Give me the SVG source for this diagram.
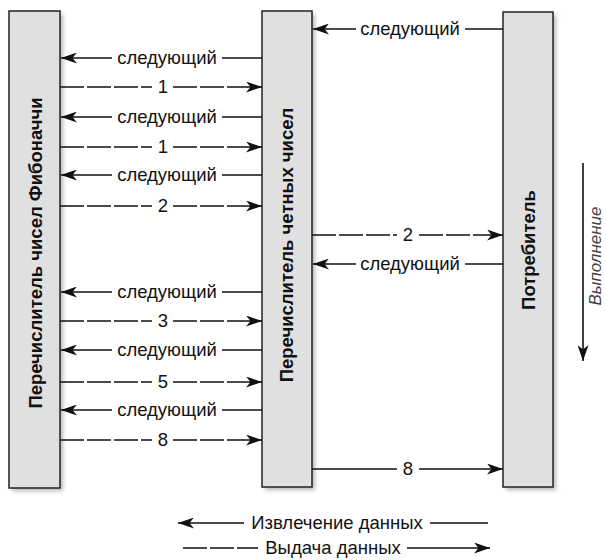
<svg xmlns="http://www.w3.org/2000/svg" width="606" height="560" viewBox="0 0 606 560">
<defs>
<marker id="ah" viewBox="0 0 16 11" refX="16" refY="5.5" markerWidth="16" markerHeight="11" markerUnits="userSpaceOnUse" orient="auto">
<path d="M0,0 L16,5.5 L0,11 L4.5,5.5 z" fill="#111"/>
</marker>
<filter id="sh" x="-20%" y="-5%" width="140%" height="110%"><feGaussianBlur stdDeviation="2"/></filter>
</defs>
<style>
.bar{fill:#e0e0e0;stroke:#222;stroke-width:1.5}
.shadow{fill:#b8b8b8;filter:url(#sh)}
.lbl{font-family:"Liberation Sans",Arial,sans-serif;font-size:18.5px;fill:#111;text-anchor:middle}
.vt{font-family:"Liberation Sans",Arial,sans-serif;font-size:18.5px;font-weight:bold;fill:#111;text-anchor:middle}
.ex{font-family:"Liberation Sans",Arial,sans-serif;font-size:17px;font-style:italic;fill:#444;text-anchor:middle}
.ln{stroke:#111;stroke-width:1.6;fill:none}
.ds{stroke:#111;stroke-width:1.6;fill:none;stroke-dasharray:24,3}
.arr{marker-end:url(#ah)}
</style>
<rect width="606" height="560" fill="#fff"/>

<g id="fib">
<rect class="shadow" x="12" y="14" width="51" height="477"/>
<rect class="bar" x="9" y="11" width="51" height="477"/>
<text class="vt" transform="translate(42,253) rotate(-90)">Перечислитель чисел Фибоначчи</text>
</g>
<g id="even">
<rect class="shadow" x="265" y="14" width="50" height="476"/>
<rect class="bar" x="262" y="11" width="50" height="476"/>
<text class="vt" transform="translate(293,245) rotate(-90)">Перечислитель четных чисел</text>
</g>
<g id="consumer">
<rect class="shadow" x="506" y="15" width="50" height="475"/>
<rect class="bar" x="503" y="12" width="50" height="475"/>
<text class="vt" transform="translate(535,250) rotate(-90)">Потребитель</text>
</g>

<g id="connectors">
<line class="ln" x1="262" y1="58" x2="222" y2="58"/><line class="ln arr" x1="112" y1="58" x2="61" y2="58"/>
<text class="lbl" x="167" y="64">следующий</text>
<line class="ln" x1="262" y1="117" x2="222" y2="117"/><line class="ln arr" x1="112" y1="117" x2="61" y2="117"/>
<text class="lbl" x="167" y="123">следующий</text>
<line class="ln" x1="262" y1="175" x2="222" y2="175"/><line class="ln arr" x1="112" y1="175" x2="61" y2="175"/>
<text class="lbl" x="167" y="181">следующий</text>
<line class="ln" x1="262" y1="292" x2="222" y2="292"/><line class="ln arr" x1="112" y1="292" x2="61" y2="292"/>
<text class="lbl" x="167" y="298">следующий</text>
<line class="ln" x1="262" y1="350" x2="222" y2="350"/><line class="ln arr" x1="112" y1="350" x2="61" y2="350"/>
<text class="lbl" x="167" y="356">следующий</text>
<line class="ln" x1="262" y1="410" x2="222" y2="410"/><line class="ln arr" x1="112" y1="410" x2="61" y2="410"/>
<text class="lbl" x="167" y="416">следующий</text>

<line class="ds" x1="60" y1="87" x2="152" y2="87"/><line class="ds arr" x1="173" y1="87" x2="262" y2="87"/>
<text class="lbl" x="163" y="93">1</text>
<line class="ds" x1="60" y1="147" x2="152" y2="147"/><line class="ds arr" x1="173" y1="147" x2="262" y2="147"/>
<text class="lbl" x="163" y="153">1</text>
<line class="ds" x1="60" y1="206" x2="152" y2="206"/><line class="ds arr" x1="173" y1="206" x2="262" y2="206"/>
<text class="lbl" x="163" y="212">2</text>
<line class="ds" x1="60" y1="321" x2="152" y2="321"/><line class="ds arr" x1="173" y1="321" x2="262" y2="321"/>
<text class="lbl" x="163" y="327">3</text>
<line class="ds" x1="60" y1="382" x2="152" y2="382"/><line class="ds arr" x1="173" y1="382" x2="262" y2="382"/>
<text class="lbl" x="163" y="388">5</text>
<line class="ds" x1="60" y1="440" x2="152" y2="440"/><line class="ds arr" x1="173" y1="440" x2="262" y2="440"/>
<text class="lbl" x="163" y="446">8</text>

<line class="ln" x1="503" y1="29" x2="465" y2="29"/><line class="ln arr" x1="356" y1="29" x2="313" y2="29"/>
<text class="lbl" x="410" y="35">следующий</text>
<line class="ds" x1="312" y1="235" x2="397" y2="235"/><line class="ds arr" x1="419" y1="235" x2="503" y2="235"/>
<text class="lbl" x="408" y="241">2</text>
<line class="ln" x1="503" y1="264" x2="465" y2="264"/><line class="ln arr" x1="356" y1="264" x2="313" y2="264"/>
<text class="lbl" x="410" y="270">следующий</text>
<line class="ln" x1="312" y1="469" x2="397" y2="469"/><line class="ln arr" x1="419" y1="469" x2="503" y2="469"/>
<text class="lbl" x="408" y="475">8</text>
</g>

<g id="execution">
<line class="ln arr" x1="583" y1="163" x2="583" y2="361"/>
<text class="ex" transform="translate(601,256) rotate(-90)">Выполнение</text>
</g>

<g id="legend">
<line class="ln arr" x1="244" y1="523" x2="178" y2="523"/>
<text class="lbl" x="337" y="529">Извлечение данных</text>
<line class="ln" x1="430" y1="523" x2="488" y2="523"/>
<line class="ds" x1="183" y1="548" x2="258" y2="548"/>
<text class="lbl" x="333" y="554">Выдача данных</text>
<line class="ln arr" x1="407" y1="548" x2="490" y2="548"/>
</g>
</svg>
